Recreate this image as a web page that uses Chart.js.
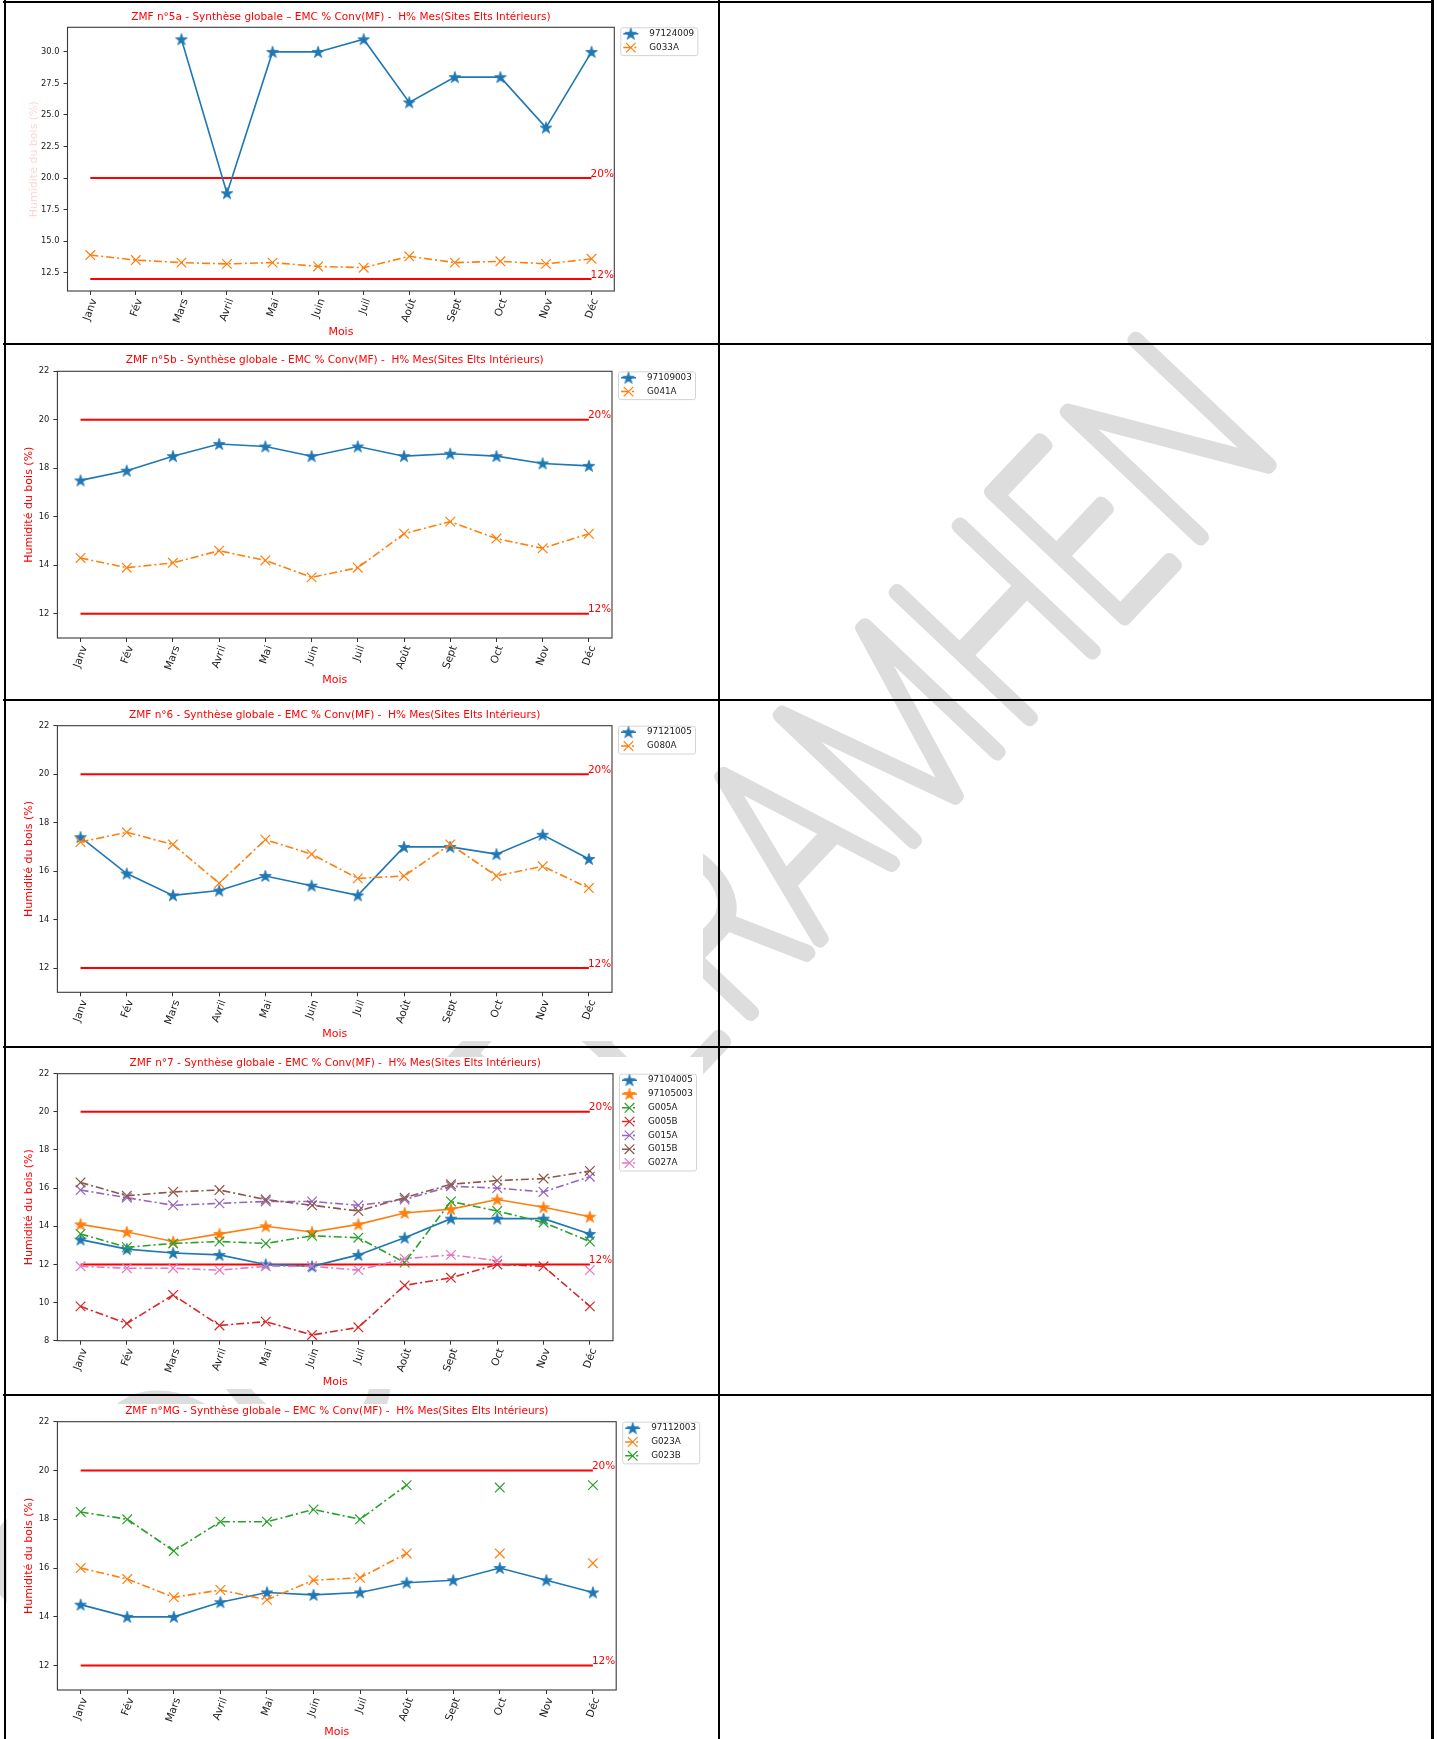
<!DOCTYPE html>
<html lang="fr">
<head>
    <meta charset="UTF-8">
    <title>Synthèse globale - EMC % Conv(MF)</title>
    <script src="https://cdn.jsdelivr.net/npm/chart.js"></script>
    <style>
        body {
            margin: 0;
            width: 1437px;
            height: 1739px;
            position: relative;
            overflow: hidden;
            background: #fff;
        }

        #filigrane {
            position: absolute;
            left: 0;
            top: 0;
            z-index: 0;
        }

        canvas.graphe {
            position: absolute;
            left: 7px;
            background: #fff;
            z-index: 1;
        }

        .trait {
            position: absolute;
            background: #000;
            z-index: 2;
        }
    </style>
</head>
<body>
<svg id="filigrane" width="1437" height="1739">
    <g transform="translate(944 677) rotate(-46.6)" fill="#dddddd" stroke="#dddddd" stroke-width="16"
       stroke-linejoin="round" stroke-linecap="round" font-family="Inter, Lato, Roboto, 'DejaVu Sans'"
       font-weight="100" font-size="250">
        <text x="0" y="90" text-anchor="middle" textLength="800" lengthAdjust="spacingAndGlyphs">RAMHEN</text>
        <text x="-400" y="90" text-anchor="end" textLength="930" lengthAdjust="spacingAndGlyphs">SOCIETE</text>
    </g>
</svg>

<!-- cadre du tableau -->
<div class="trait" style="left:3px; top:0.5px; width:1431px; height:2.5px"></div>
<div class="trait" style="left:3.5px; top:0; width:2px; height:1739px"></div>
<div class="trait" style="left:717.5px; top:0; width:2px; height:1739px"></div>
<div class="trait" style="left:1431px; top:0; width:2.5px; height:1739px"></div>
<div class="trait" style="left:3px; top:342.5px; width:1431px; height:2px"></div>
<div class="trait" style="left:3px; top:698.8px; width:1431px; height:2px"></div>
<div class="trait" style="left:3px; top:1045.7px; width:1431px; height:2px"></div>
<div class="trait" style="left:3px; top:1394px; width:1431px; height:2px"></div>

<script>
    const mois = ['Janv', 'Fév', 'Mars', 'Avril', 'Mai', 'Juin', 'Juil', 'Août', 'Sept', 'Oct', 'Nov', 'Déc'];
    const seuils = [20, 12];

    // ZMF n°5a
    const s97124009 = [null, null, 31, 18.8, 30, 30, 31, 26, 28, 28, 24, 30];
    const sG033A = [13.9, 13.5, 13.3, 13.2, 13.3, 13.0, 12.9, 13.8, 13.3, 13.4, 13.2, 13.6];
    const graduations5a = [12.5, 15, 17.5, 20, 22.5, 25, 27.5, 30];

    // ZMF n°5b
    const s97109003 = [17.5, 17.9, 18.5, 19.0, 18.9, 18.5, 18.9, 18.5, 18.6, 18.5, 18.2, 18.1];
    const sG041A = [14.3, 13.9, 14.1, 14.6, 14.2, 13.5, 13.9, 15.3, 15.8, 15.1, 14.7, 15.3];

    // ZMF n°6
    const s97121005 = [17.4, 15.9, 15.0, 15.2, 15.8, 15.4, 15.0, 17.0, 17.0, 16.7, 17.5, 16.5];
    const sG080A = [17.2, 17.6, 17.1, 15.5, 17.3, 16.7, 15.7, 15.8, 17.1, 15.8, 16.2, 15.3];

    // ZMF n°7
    const s97104005 = [13.3, 12.8, 12.6, 12.5, 12.0, 11.9, 12.5, 13.4, 14.4, 14.4, 14.4, 13.6];
    const s97105003 = [14.1, 13.7, 13.2, 13.6, 14.0, 13.7, 14.1, 14.7, 14.9, 15.4, 15.0, 14.5];
    const sG005A = [13.6, 12.9, 13.1, 13.2, 13.1, 13.5, 13.4, 12.1, 15.3, 14.8, 14.2, 13.2];
    const sG005B = [9.8, 8.9, 10.4, 8.8, 9.0, 8.3, 8.7, 10.9, 11.3, 12.0, 11.9, 9.8];
    const sG015A = [15.9, 15.5, 15.1, 15.2, 15.3, 15.3, 15.1, 15.4, 16.1, 16.0, 15.8, 16.6];
    const sG015B = [16.3, 15.6, 15.8, 15.9, 15.4, 15.1, 14.8, 15.5, 16.2, 16.4, 16.5, 16.9];
    const sG027A = [11.9, 11.8, 11.8, 11.7, 11.9, 11.9, 11.7, 12.3, 12.5, 12.2, null, 11.7];

    // ZMF n°MG
    const s97112003 = [14.5, 14.0, 14.0, 14.6, 15.0, 14.9, 15.0, 15.4, 15.5, 16.0, 15.5, 15.0];
    const sG023A = [16.0, 15.55, 14.8, 15.1, 14.7, 15.5, 15.6, 16.6, null, 16.6, null, 16.2];
    const sG023B = [18.3, 18.0, 16.7, 17.9, 17.9, 18.4, 18.0, 19.4, null, 19.3, null, 19.4];

    const graduations12a22 = [12, 14, 16, 18, 20, 22];
    const graduations8a22 = [8, 10, 12, 14, 16, 18, 20, 22];

    const bleu = '#1f77b4', orange = '#ff7f0e', vert = '#2ca02c', rouge = '#d62728',
        violet = '#9467bd', brun = '#8c564b', rose = '#e377c2';

    const police = "'DejaVu Sans', 'Liberation Sans', sans-serif";
    Chart.defaults.font.family = police;
    Chart.defaults.color = '#222';

    // marqueur étoile pleine (type "*" de matplotlib)
    function etoile(couleur) {
        const c = document.createElement('canvas');
        c.width = 14;
        c.height = 14;
        const g = c.getContext('2d');
        g.beginPath();
        for (let i = 0; i < 10; i++) {
            const r = i % 2 ? 2.4 : 6.2;
            const a = -Math.PI / 2 + i * Math.PI / 5;
            g.lineTo(7 + r * Math.cos(a), 7.5 + r * Math.sin(a));
        }
        g.closePath();
        g.fillStyle = couleur;
        g.fill();
        g.strokeStyle = couleur;
        g.lineWidth = 0.8;
        g.stroke();
        return c;
    }

    function serie(label, data, couleur, avecEtoile) {
        return {
            label, data,
            borderColor: couleur,
            backgroundColor: couleur,
            borderWidth: 1.6,
            borderDash: avecEtoile ? [] : [8, 3, 2, 3],
            pointStyle: avecEtoile ? etoile(couleur) : 'crossRot',
            pointRadius: avecEtoile ? 5 : 6.8,
            pointBorderWidth: 1.2,
            tension: 0,
            fill: false,
            spanGaps: false
        };
    }

    function seuil(valeur) {
        return {
            label: valeur + '%',
            data: mois.map(() => valeur),
            borderColor: 'red',
            borderWidth: 2,
            pointRadius: 0,
            seuil: true,
            order: 100
        };
    }

    function marqueur(ctx, d, x, y) {
        if (d.pointStyle instanceof HTMLCanvasElement) {
            ctx.drawImage(d.pointStyle, x - d.pointStyle.width / 2, y - d.pointStyle.height / 2);
        } else {
            const r = 4.8;
            ctx.strokeStyle = d.borderColor;
            ctx.lineWidth = 1.2;
            ctx.beginPath();
            ctx.moveTo(x - r, y - r);
            ctx.lineTo(x + r, y + r);
            ctx.moveTo(x - r, y + r);
            ctx.lineTo(x + r, y - r);
            ctx.stroke();
        }
    }

    // cadre, titre, étiquettes 20% / 12% et légende à droite du graphe
    const habillage = {
        id: 'habillage',
        afterDraw(chart, args, o) {
            const {ctx, chartArea: a} = chart;
            const x = chart.scales.x, y = chart.scales.y;
            ctx.save();
            ctx.setLineDash([]);
            ctx.strokeStyle = '#3a3a3a';
            ctx.lineWidth = 1.1;
            ctx.strokeRect(a.left, a.top, a.right - a.left, a.bottom - a.top);

            ctx.fillStyle = 'red';
            ctx.font = '10.5px ' + police;
            ctx.textAlign = 'center';
            ctx.textBaseline = 'middle';
            ctx.fillText(o.titre, (a.left + a.right) / 2, o.titreY);

            ctx.textAlign = 'left';
            ctx.textBaseline = 'alphabetic';
            for (const s of seuils) {
                ctx.fillText(s + '%', x.getPixelForValue(mois.length - 1) - 1, y.getPixelForValue(s) - 1.5);
            }

            const items = chart.data.datasets.filter(d => !d.seuil);
            const bx = a.right + 6, by = a.top, pas = 13.8;
            const bh = 14 + (items.length - 1) * pas;
            ctx.beginPath();
            ctx.roundRect(bx + 0.5, by + 0.5, 77, bh, 2);
            ctx.fillStyle = '#fff';
            ctx.fill();
            ctx.strokeStyle = '#d4d4d4';
            ctx.lineWidth = 1;
            ctx.stroke();
            ctx.font = '8.8px ' + police;
            ctx.textBaseline = 'middle';
            items.forEach((d, i) => {
                const cy = by + 6.5 + i * pas;
                ctx.strokeStyle = d.borderColor;
                ctx.lineWidth = 1.5;
                ctx.setLineDash(d.borderDash);
                ctx.beginPath();
                ctx.moveTo(bx + 3, cy);
                ctx.lineTo(bx + 18, cy);
                ctx.stroke();
                ctx.setLineDash([]);
                marqueur(ctx, d, bx + 10.5, cy);
                ctx.fillStyle = '#222';
                ctx.fillText(d.label, bx + 29, cy);
            });
            ctx.restore();
        }
    };

    // g : positions dans la page (canvas haut/bas, zone du graphe, titre, "Mois", titre vertical)
    function graphique(titre, series, g, yMin, yMax, graduations, formatY, couleurTitreY) {
        const canvas = document.createElement('canvas');
        canvas.className = 'graphe';
        const largeur = 696, hauteur = g.bas - g.haut;
        canvas.width = largeur;
        canvas.height = hauteur;
        canvas.style.top = g.haut + 'px';
        document.body.appendChild(canvas);

        const gauche = g.zone[0] - 7, haut = g.zone[1] - g.haut;
        const droite = g.zone[2] - 7, bas = g.zone[3] - g.haut;
        const n = series.length;
        series.forEach((s, i) => s.order = n - i);

        return new Chart(canvas, {
            type: 'line',
            data: {labels: mois, datasets: [...series, seuil(seuils[0]), seuil(seuils[1])]},
            plugins: [habillage],
            options: {
                responsive: false,
                animation: false,
                devicePixelRatio: 1,
                layout: {padding: {left: 0, top: haut, right: largeur - droite, bottom: 0}},
                plugins: {
                    legend: {display: false},
                    tooltip: {enabled: false},
                    habillage: {titre, titreY: g.titreY - g.haut}
                },
                scales: {
                    x: {
                        offset: true,
                        afterFit: s => { s.height = hauteur - bas; },
                        ticks: {autoSkip: false, minRotation: 70, maxRotation: 70, padding: 2, labelOffset: 4,
                            font: {size: 10.5}, color: '#222'},
                        grid: {drawOnChartArea: false, offset: false, tickLength: 4, tickColor: '#333'},
                        border: {display: false},
                        title: {display: true, text: 'Mois', color: 'red', font: {size: 11},
                            padding: {top: 0, bottom: Math.max(0, hauteur - (g.mois - g.haut) - 6.6)}}
                    },
                    y: {
                        min: yMin,
                        max: yMax,
                        afterFit: s => { s.width = gauche; },
                        afterBuildTicks: s => { s.ticks = graduations.map(v => ({value: v})); },
                        ticks: {callback: formatY, font: {size: 8.3}, color: '#222', padding: 4},
                        grid: {drawOnChartArea: false, tickLength: 4, tickColor: '#333'},
                        border: {display: false},
                        title: {display: true, text: 'Humidité du bois (%)', color: couleurTitreY,
                            font: {size: 11}, padding: {top: g.titreYX - 7 - 6.6, bottom: 0}}
                    }
                }
            }
        });
    }

    const entier = v => String(v);
    const decimal = v => v.toFixed(1);

    graphique('ZMF n°5a - Synthèse globale – EMC % Conv(MF) -  H% Mes(Sites Elts Intérieurs)',
        [serie('97124009', s97124009, bleu, true), serie('G033A', sG033A, orange, false)],
        {haut: 8, bas: 340, zone: [67.5, 27.3, 614.3, 291], titreY: 17.3, mois: 331.7, titreYX: 34.4},
        11.05, 31.95, graduations5a, decimal, 'rgba(255,60,60,0.22)');

    graphique('ZMF n°5b - Synthèse globale - EMC % Conv(MF) -  H% Mes(Sites Elts Intérieurs)',
        [serie('97109003', s97109003, bleu, true), serie('G041A', sG041A, orange, false)],
        {haut: 352, bas: 690, zone: [57.4, 371.3, 612, 638], titreY: 360.7, mois: 679.7, titreYX: 29},
        11, 22, graduations12a22, entier, 'red');

    graphique('ZMF n°6 - Synthèse globale - EMC % Conv(MF) -  H% Mes(Sites Elts Intérieurs)',
        [serie('97121005', s97121005, bleu, true), serie('G080A', sG080A, orange, false)],
        {haut: 707, bas: 1041, zone: [57.4, 725.7, 612, 992.3], titreY: 715.7, mois: 1034, titreYX: 29},
        11, 22, graduations12a22, entier, 'red');

    graphique('ZMF n°7 - Synthèse globale - EMC % Conv(MF) -  H% Mes(Sites Elts Intérieurs)',
        [serie('97104005', s97104005, bleu, true), serie('97105003', s97105003, orange, true),
            serie('G005A', sG005A, vert, false), serie('G005B', sG005B, rouge, false),
            serie('G015A', sG015A, violet, false), serie('G015B', sG015B, brun, false),
            serie('G027A', sG027A, rose, false)],
        {haut: 1057, bas: 1389, zone: [57.4, 1073.7, 613, 1340.7], titreY: 1063.7, mois: 1382, titreYX: 29},
        8, 22, graduations8a22, entier, 'red');

    graphique('ZMF n°MG - Synthèse globale – EMC % Conv(MF) -  H% Mes(Sites Elts Intérieurs)',
        [serie('97112003', s97112003, bleu, true), serie('G023A', sG023A, orange, false),
            serie('G023B', sG023B, vert, false)],
        {haut: 1404, bas: 1739, zone: [57.4, 1421.7, 616.2, 1690], titreY: 1411.7, mois: 1732, titreYX: 29},
        11, 22, graduations12a22, entier, 'red');
</script>
</body>
</html>
